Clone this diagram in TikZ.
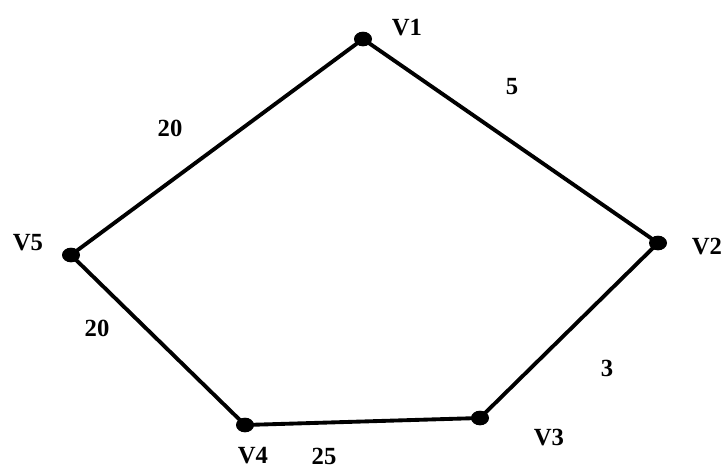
\documentclass[tikz,border=0pt]{standalone}
\usepackage{fontspec}
\setmainfont{Liberation Serif}
\usetikzlibrary{shapes.geometric}
\begin{document}
\begin{tikzpicture}[x=0.75pt,y=-0.75pt,
  vdot/.style={ellipse,fill=black,inner sep=0pt,minimum width=13.5pt,minimum height=11pt},
  lbl/.style={font=\fontsize{18.5}{22}\selectfont\bfseries,inner sep=0pt},
  edge/.style={line width=2.9pt,line join=round}]
\useasboundingbox (0,0) rectangle (726,468);
\node[vdot] (v1) at (363,39) {};
\node[vdot] (v2) at (658,243) {};
\node[vdot] (v3) at (480,418) {};
\node[vdot] (v4) at (245,425) {};
\node[vdot] (v5) at (71,255) {};
\draw[edge] (v1.center) -- (v2.center) -- (v3.center) -- (v4.center) -- (v5.center) -- (v1.center);
\node[lbl] (l1) at (407,28) {V1};
\node[lbl] (l2) at (707,247) {V2};
\node[lbl] (l3) at (549,438) {V3};
\node[lbl] (l4) at (253,456) {V4};
\node[lbl] (l5) at (28,243) {V5};
\node[lbl] (w12) at (512,87) {5};
\node[lbl] (w23) at (607,368) {3};
\node[lbl] (w34) at (324,456) {25};
\node[lbl] (w45) at (97,328) {20};
\node[lbl] (w51) at (170,128) {20};
\end{tikzpicture}
\end{document}
